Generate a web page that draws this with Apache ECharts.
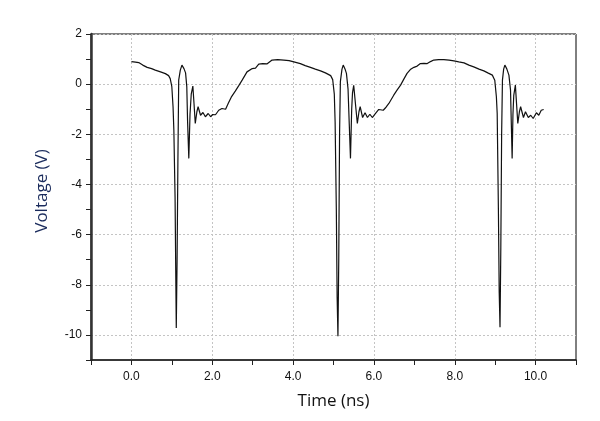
<!DOCTYPE html>
<html lang="en">
<head>
    <meta charset="UTF-8">
    <title>Voltage vs Time</title>
    <script src="https://cdn.jsdelivr.net/npm/echarts@6/dist/echarts.min.js"></script>
    <style>
        html, body { margin: 0; padding: 0; background: #fff; }
    </style>
</head>
<body>
    <div id="chart" style="width: 600px; height: 421px;"></div>
    <script>
        // waveform, [time (ns), voltage (V)], split per period
        const pulse1 = [
            [0.00, 0.90], [0.10, 0.88], [0.18, 0.86], [0.28, 0.76], [0.39, 0.67], [0.50, 0.62],
            [0.59, 0.56], [0.72, 0.49], [0.84, 0.42], [0.92, 0.34], [0.96, 0.22], [1.00, -0.10],
            [1.03, -0.90], [1.05, -1.83], [1.08, -4.5], [1.10, -8.0], [1.11, -9.72], [1.13, -7.0],
            [1.15, -3.1], [1.17, 0.16], [1.21, 0.56], [1.25, 0.76], [1.30, 0.62], [1.34, 0.45],
            [1.37, -0.10], [1.39, -1.5], [1.42, -2.96], [1.45, -1.2], [1.48, -0.40], [1.52, -0.08],
            [1.55, -0.8], [1.58, -1.57], [1.62, -1.1], [1.65, -0.90], [1.71, -1.24], [1.77, -1.13],
            [1.83, -1.30], [1.90, -1.17], [1.96, -1.30], [2.01, -1.21], [2.08, -1.22], [2.16, -1.04],
            [2.24, -0.97], [2.33, -1.00], [2.40, -0.75], [2.47, -0.52], [2.57, -0.28], [2.66, -0.05],
            [2.74, 0.16], [2.86, 0.49], [2.99, 0.62], [3.07, 0.64], [3.15, 0.80], [3.25, 0.82],
            [3.36, 0.81], [3.48, 0.96], [3.62, 0.98], [3.77, 0.96], [3.90, 0.94]
        ];
        const pulse2 = [
            [4.02, 0.89], [4.18, 0.82], [4.30, 0.74], [4.43, 0.67], [4.55, 0.60], [4.68, 0.53],
            [4.80, 0.45], [4.93, 0.34], [4.98, 0.18], [5.02, -0.4], [5.04, -1.5], [5.07, -5.0],
            [5.09, -8.5], [5.11, -10.05], [5.13, -7.0], [5.15, -2.0], [5.17, 0.10], [5.21, 0.60],
            [5.24, 0.76], [5.29, 0.58], [5.32, 0.43], [5.36, -0.2], [5.39, -1.6], [5.42, -2.96],
            [5.45, -1.0], [5.47, -0.35], [5.50, -0.05], [5.55, -0.9], [5.59, -1.57], [5.63, -1.1],
            [5.66, -0.90], [5.72, -1.33], [5.78, -1.14], [5.84, -1.33], [5.90, -1.20], [5.96, -1.33],
            [6.04, -1.17], [6.12, -1.01], [6.23, -1.04], [6.30, -0.92], [6.37, -0.77], [6.49, -0.44],
            [6.58, -0.22], [6.66, -0.04], [6.74, 0.20], [6.82, 0.43], [6.90, 0.58], [6.99, 0.67],
            [7.07, 0.72], [7.15, 0.82], [7.24, 0.83], [7.32, 0.82], [7.40, 0.90], [7.48, 0.96],
            [7.60, 0.98], [7.73, 0.98], [7.86, 0.96]
        ];
        const pulse3 = [
            [7.98, 0.93], [8.10, 0.89], [8.23, 0.85], [8.35, 0.76], [8.47, 0.69], [8.60, 0.60],
            [8.72, 0.53], [8.83, 0.44], [8.93, 0.36], [8.99, 0.16], [9.03, -0.5], [9.05, -1.16],
            [9.08, -5.0], [9.10, -8.3], [9.12, -9.69], [9.14, -6.5], [9.16, -2.0], [9.18, 0.16],
            [9.21, 0.60], [9.24, 0.76], [9.29, 0.60], [9.34, 0.36], [9.38, -0.24], [9.40, -1.6],
            [9.42, -2.96], [9.44, -1.2], [9.46, -0.45], [9.50, -0.04], [9.53, -0.8], [9.56, -1.57],
            [9.60, -1.1], [9.63, -0.90], [9.70, -1.33], [9.75, -1.10], [9.82, -1.33], [9.88, -1.24],
            [9.94, -1.37], [10.02, -1.14], [10.08, -1.24], [10.14, -1.04], [10.20, -1.01]
        ];

        const xRange = [-1, 11];
        const yRange = [-11, 2];
        const xLabelValues = [0, 2, 4, 6, 8, 10];
        const yLabelValues = [-10, -8, -6, -4, -2, 0, 2];

        const waveform = pulse1.concat(pulse2, pulse3);

        const myChart = echarts.init(document.getElementById('chart'));
        const gridDash = { color: ['transparent', '#c4c4c4'], type: [2, 2], width: 1 };

        let option = {
            animation: false,
            grid: {
                left: 91,
                right: 24,
                top: 34,
                bottom: 61,
                show: true,
                borderColor: '#000',
                borderWidth: 1
            },
            xAxis: {
                type: 'value',
                min: xRange[0],
                max: xRange[1],
                interval: 1,
                name: 'Time (ns)',
                nameLocation: 'middle',
                nameGap: 33,
                nameTextStyle: { fontFamily: 'Open Sans', fontSize: 17, color: '#111' },
                axisLine: { onZero: false, lineStyle: { color: '#222', width: 1.5 } },
                axisTick: { length: 5, lineStyle: { color: '#222', width: 1 } },
                axisLabel: {
                    margin: 11,
                    fontFamily: 'Liberation Sans',
                    fontSize: 12,
                    color: '#111',
                    formatter: v => xLabelValues.includes(v) ? v.toFixed(1) : ''
                },
                splitLine: { show: true, lineStyle: gridDash }
            },
            yAxis: {
                type: 'value',
                min: yRange[0],
                max: yRange[1],
                interval: 1,
                name: 'Voltage (V)',
                nameLocation: 'middle',
                nameGap: 40,
                nameTextStyle: { fontFamily: 'Open Sans', fontSize: 17, color: '#1a2b5c', padding: [0, 0, 0, 12] },
                axisLine: { onZero: false, lineStyle: { color: '#333', width: 2.5 } },
                axisTick: { length: 5, lineStyle: { color: '#222', width: 1 } },
                axisLabel: {
                    margin: 9,
                    fontFamily: 'Liberation Sans',
                    fontSize: 12,
                    color: '#111',
                    formatter: v => yLabelValues.includes(v) ? String(v) : ''
                },
                splitLine: { show: true, lineStyle: gridDash }
            },
            series: [{
                type: 'line',
                data: waveform,
                showSymbol: false,
                lineStyle: { color: '#111', width: 1.2 }
            }]
        };

        myChart.setOption(option);
    </script>
</body>
</html>
